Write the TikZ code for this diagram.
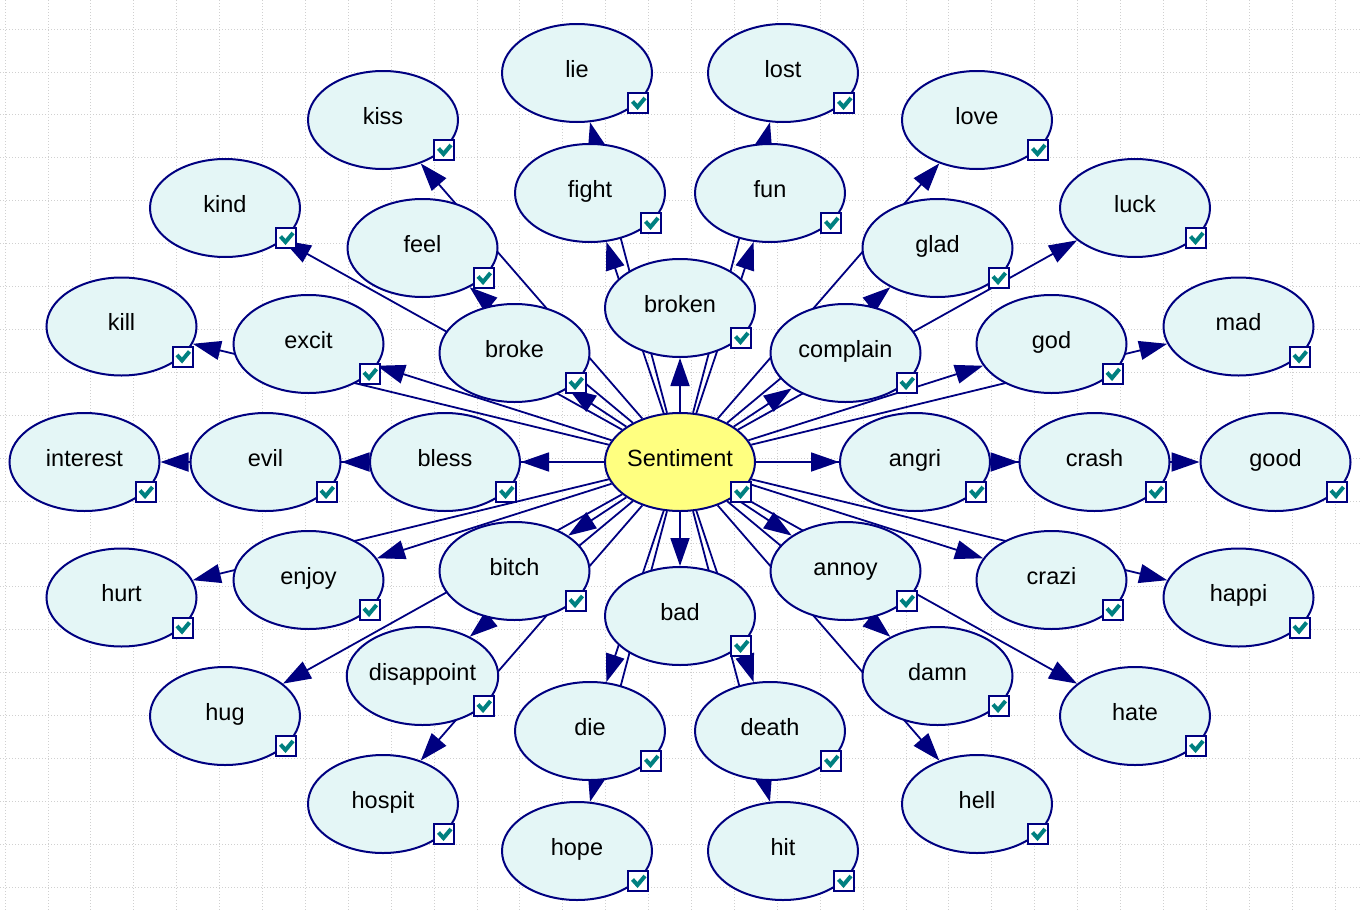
\documentclass[tikz,border=0pt]{standalone}
\usepackage{fontspec}
\setmainfont{Liberation Sans}
\usepackage{xcolor}
\usepackage{tikz}
\usetikzlibrary{shapes.geometric, arrows.meta, backgrounds}

\definecolor{netblue}{RGB}{0,0,128}
\definecolor{varfill}{RGB}{228,246,246}
\definecolor{classfill}{RGB}{255,255,128}
\definecolor{tickteal}{RGB}{0,128,128}
\definecolor{gridgray}{RGB}{208,208,208}

\newcommand{\allvars}{lie,lost,hope,hit,kiss,love,hospit,hell,fight,fun,die,death,kind,luck,hug,hate,feel,glad,disappoint,damn,kill,mad,hurt,happi,excit,god,enjoy,crazi,broke,complain,bitch,annoy,bless,angri,evil,crash,interest,good,broken,bad}

\begin{document}
\begin{tikzpicture}[x=1pt, y=-1pt,
	var/.style = {ellipse, draw=netblue, line width=2pt, fill=varfill, minimum width=150pt, minimum height=98pt, inner sep=0pt, text height=12pt, text depth=4pt, font=\fontsize{23.5}{26}\selectfont},
	chk/.style = {rectangle, draw=netblue, line width=2pt, fill=white, minimum size=20pt, inner sep=0pt,
		path picture={\draw[tickteal, line width=4pt] ([shift={(-5.5,-1.5)}]path picture bounding box.center) -- ++(5,5.5) -- ++(7.5,-9);}},
	dep/.style = {draw=netblue, line width=1.8pt, -{Triangle[length=28pt, width=19pt]}},
	gridline/.style = {gridgray, line width=0.8pt, dash pattern=on 1pt off 2pt}
]
	\useasboundingbox (0,0) rectangle (1360,910);
	\node[var, fill=classfill] (sentiment) at (680,462) {Sentiment};
	\foreach \a/\b/\c/\d/\dx/\dy in {lie/lost/hope/hit/103/389, kiss/love/hospit/hell/297/342, fight/fun/die/death/90/269, kind/luck/hug/hate/455/254, feel/glad/disappoint/damn/257.5/214, kill/mad/hurt/happi/558.5/135.5, excit/god/enjoy/crazi/371.5/118, broke/complain/bitch/annoy/165.5/109} {
		\node[var] (\a) at ({680-\dx},{462-\dy}) {\a};
		\node[var] (\b) at ({680+\dx},{462-\dy}) {\b};
		\node[var] (\c) at ({680-\dx},{462+\dy}) {\c};
		\node[var] (\d) at ({680+\dx},{462+\dy}) {\d};
	}
	\foreach \a/\b/\dx in {bless/angri/235, evil/crash/414.5, interest/good/595.5} {
		\node[var] (\a) at ({680-\dx},462) {\a};
		\node[var] (\b) at ({680+\dx},462) {\b};
	}
	\node[var] (broken) at (680,308) {broken};
	\node[var] (bad) at (680,616) {bad};
	% check boxes
	\node[chk] (sentiment-box) at ([shift={(61,30)}]sentiment.center) {};
	\foreach \n in \allvars
		\node[chk] (\n-box) at ([shift={(61,30)}]\n.center) {};

	\begin{pgfonlayer}{background}
		\fill[white] (0,0) rectangle (1360,910);
		\foreach \i in {0,...,31}
			\draw[gridline] ({5+42.9*\i},0) -- ({5+42.9*\i},910);
		\foreach \j in {0,...,20}
			\draw[gridline] (0,{29+42.9*\j}) -- (1360,{29+42.9*\j});
		\foreach \n in \allvars
			\draw[dep] (sentiment) -- (\n);
	\end{pgfonlayer}
\end{tikzpicture}
\end{document}
